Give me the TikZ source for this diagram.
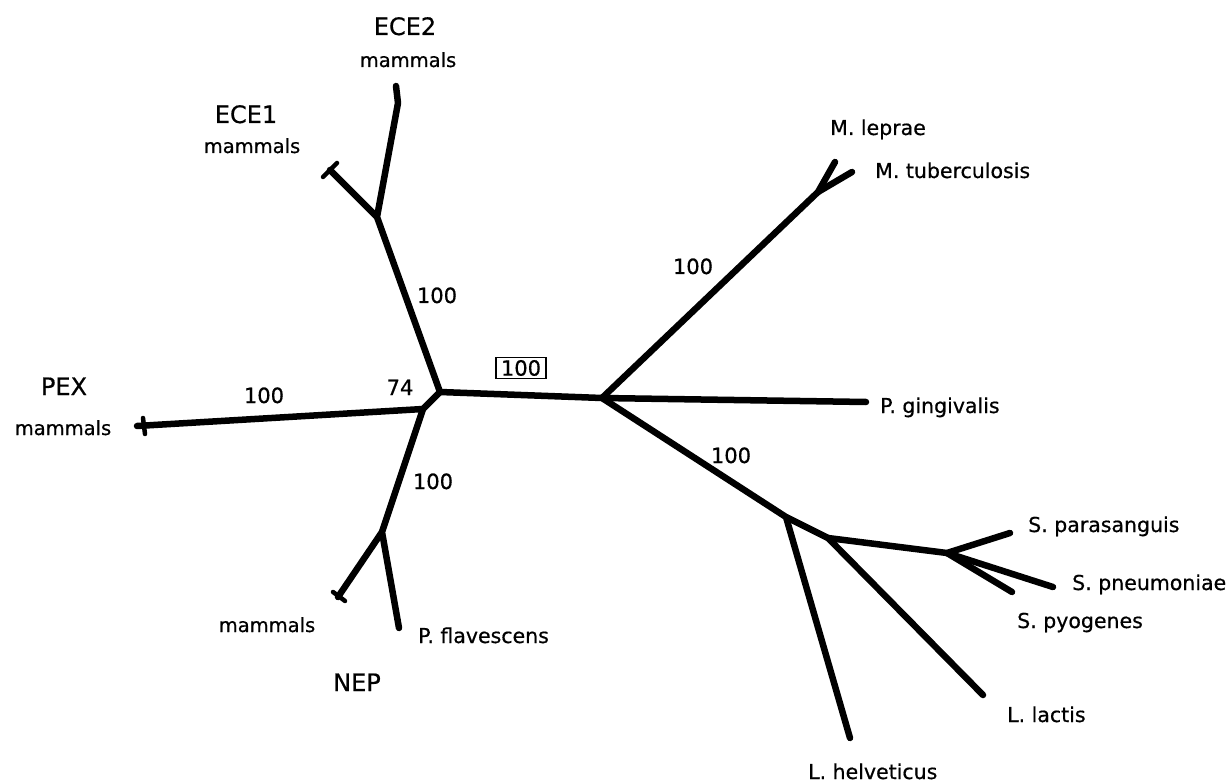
\documentclass[tikz,border=0pt]{standalone}
\usepackage{fontspec}
\setmainfont[FakeBold=0.6]{DejaVu Sans}
\begin{document}
\begin{tikzpicture}[x=1pt,y=-1pt,
  branch/.style={line width=6.5pt,line cap=round,line join=round},
  tipbar/.style={line width=4.5pt,line cap=round},
  sp/.style={inner sep=0pt,font=\fontsize{20.5pt}{24pt}\selectfont},
  mam/.style={inner sep=0pt,font=\fontsize{19.5pt}{23pt}\selectfont},
  big/.style={inner sep=0pt,font=\fontsize{24pt}{28pt}\selectfont},
  num/.style={inner sep=0pt,font=\fontsize{21pt}{24pt}\selectfont}]
\useasboundingbox (0,0) rectangle (1231,783);
\fill[white] (0,0) rectangle (1231,783);
% tree points
\coordinate (A) at (440,392);
\coordinate (B) at (423,409);
\coordinate (E) at (377,217);
\coordinate (ece2k) at (398,103);
\coordinate (ece2) at (396,86);
\coordinate (ece1) at (330,170);
\coordinate (pex) at (137,426);
\coordinate (C) at (382,532);
\coordinate (nepm) at (338,597);
\coordinate (pfla) at (399,628);
\coordinate (D) at (602,398);
\coordinate (F) at (818,192);
\coordinate (mlep) at (835,162);
\coordinate (mtub) at (852,172);
\coordinate (pgin) at (866,402);
\coordinate (J) at (786,517);
\coordinate (lhel) at (850,738);
\coordinate (I) at (828,538);
\coordinate (llac) at (983,695);
\coordinate (H) at (947,553);
\coordinate (spar) at (1010,533);
\coordinate (spne) at (1053,587);
\coordinate (spyo) at (1012,592);
% tip bars
\coordinate (ece1a) at (323,177);
\coordinate (ece1b) at (337,163);
\coordinate (pexa) at (143,418);
\coordinate (pexb) at (145,434);
\coordinate (nepa) at (333,592);
\coordinate (nepb) at (345,601);
% branches
\draw[branch] (ece2) -- (ece2k) -- (E) -- (A) -- (B) -- (C) -- (pfla);
\draw[branch] (ece1) -- (E);
\draw[branch] (pex) -- (B);
\draw[branch] (C) -- (nepm);
\draw[branch] (A) -- (D) -- (pgin);
\draw[branch] (D) -- (F) -- (mlep);
\draw[branch] (F) -- (mtub);
\draw[branch] (D) -- (J) -- (lhel);
\draw[branch] (J) -- (I) -- (llac);
\draw[branch] (I) -- (H) -- (spar);
\draw[branch] (H) -- (spne);
\draw[branch] (H) -- (spyo);
\draw[tipbar] (ece1a) -- (ece1b);
\draw[tipbar] (pexa) -- (pexb);
\draw[tipbar] (nepa) -- (nepb);
% labels
\node[big, anchor=base] (tece2) at (405,35) {ECE2};
\node[mam, anchor=base] (tece2m) at (408,67) {mammals};
\node[big, anchor=base] (tece1) at (246,123) {ECE1};
\node[mam, anchor=base] (tece1m) at (252,153) {mammals};
\node[big, anchor=base] (tpex) at (64,395) {PEX};
\node[mam, anchor=base] (tpexm) at (63,435) {mammals};
\node[mam, anchor=base] (tnepm) at (267,632) {mammals};
\node[sp, anchor=base west] (tpfla) at (418,643) {P. flavescens};
\node[big, anchor=base] (tnep) at (357,691) {NEP};
\node[num, anchor=base] (b1) at (437,303) {100};
\node[num, anchor=base] (b2) at (400,395) {74};
\node[num, anchor=base] (b3) at (264,403) {100};
\node[num, anchor=base] (b4) at (433,489) {100};
\node[num, draw, line width=1.2pt, inner xsep=5pt, inner ysep=2.5pt] (b5) at (521,368) {100};
\node[num, anchor=base] (b6) at (693,274) {100};
\node[num, anchor=base] (b7) at (731,463) {100};
\node[sp, anchor=base west] (tmlep) at (830,135) {M. leprae};
\node[sp, anchor=base west] (tmtub) at (875,178) {M. tuberculosis};
\node[sp, anchor=base west] (tpgin) at (880,413) {P. gingivalis};
\node[sp, anchor=base west] (tspar) at (1028,532) {S. parasanguis};
\node[sp, anchor=base west] (tspne) at (1072,590) {S. pneumoniae};
\node[sp, anchor=base west] (tspyo) at (1017,628) {S. pyogenes};
\node[sp, anchor=base west] (tllac) at (1007,722) {L. lactis};
\node[sp, anchor=base west] (tlhel) at (808,779) {L. helveticus};
\end{tikzpicture}
\end{document}
